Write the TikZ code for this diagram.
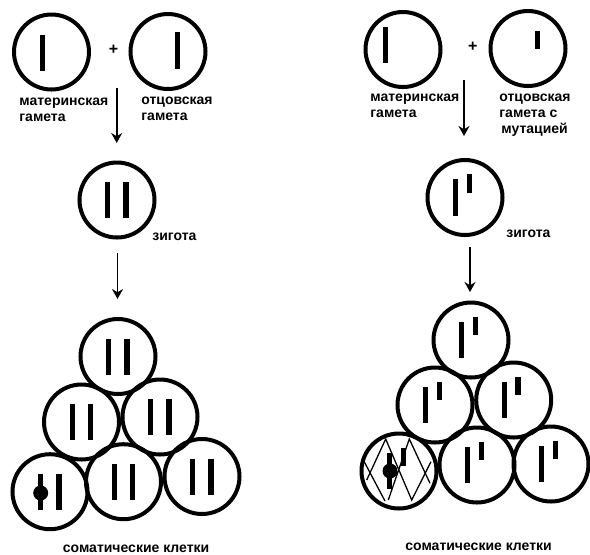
\documentclass[tikz,border=0pt]{standalone}
\usepackage{fontspec}
\setmainfont{Liberation Sans}
\tikzset{
	cell/.style={circle, draw, line width=2pt, inner sep=0pt, minimum size=37.5pt},
	chromo/.style={line width=2.6pt},
	hatch/.style={line width=0.65pt},
	label/.style={font=\bfseries\fontsize{7pt}{8pt}\selectfont, align=left, inner sep=0pt},
	growth/.style={line width=0.9pt, -{Stealth[length=5pt, width=5.5pt]}}
}
\usetikzlibrary{arrows.meta}
% cell holding two long chromosomes
\def\pairCell(#1,#2)#3{
	\node[cell] (#3) at (#1, #2) {};
	\draw[chromo] ({#1-9.3}, {#2-18}) -- ({#1-9.3}, {#2+18});
	\draw[chromo] ({#1+9}, {#2-18}) -- ({#1+9}, {#2+18});
}
% cell holding a long chromosome and a short one
\def\shortCell(#1,#2)#3{
	\node[cell] (#3) at (#1, #2) {};
	\draw[chromo] ({#1-9.3}, {#2-18.5}) -- ({#1-9.3}, {#2+18});
	\draw[chromo] ({#1+4.2}, {#2-23.5}) -- ({#1+4.2}, {#2-5});
}

\begin{document}
\begin{tikzpicture}[x=0.5pt, y=-0.5pt]
		\useasboundingbox (0, 0) rectangle (590, 554);
		%%%%% LEFT SIDE %%%%%
		\node[cell] (motherL) at (51.5, 52) {};
		\draw[chromo] (42.5, 35) -- (42.5, 71);
		\node[cell] (fatherL) at (168, 51.5) {};
		\draw[chromo] (177.5, 32) -- (177.5, 69);
		\node[font=\bfseries\fontsize{8pt}{8pt}\selectfont, inner sep=0pt] (plusL) at (113.5, 49.5) {+};
		
		\node[label, anchor=north west] (motherTextL) at (19, 98) {материнская\\гамета};
		\node[label, anchor=north west] (fatherTextL) at (141, 97) {отцовская\\гамета};
		
		\coordinate (arrowAL) at (116.7, 88);
		\coordinate (arrowBL) at (116.7, 143);
		\draw[growth] (arrowAL) -- (arrowBL);
		
		\pairCell(117, 200){zygoteL}
		\node[label, anchor=north west] (zygoteTextL) at (152, 233) {зигота};
		
		\coordinate (arrowCL) at (117.5, 253);
		\coordinate (arrowDL) at (117.5, 299);
		\draw[growth] (arrowCL) -- (arrowDL);
		
		\pairCell(118, 356.5){somaA}
		\pairCell(81.5, 422){somaB}
		\pairCell(160, 417){somaC}
		\pairCell(123.5, 481.7){somaE}
		\pairCell(202, 476.5){somaF}
		\pairCell(50, 491.7){somaD}
		\node[circle, fill=black, inner sep=0pt, minimum size=7.5pt] (markL) at (40.7, 493) {};
		
		\node[label, anchor=north west] (somaTextL) at (62.5, 544.5) {соматические клетки};
		
		%%%%% RIGHT SIDE %%%%%
		\node[cell] (motherR) at (403, 49.5) {};
		\draw[chromo] (385.7, 27) -- (385.7, 63);
		\node[cell] (fatherR) at (528, 48.5) {};
		\draw[chromo] (537.7, 30.7) -- (537.7, 48.7);
		\node[font=\bfseries\fontsize{8pt}{8pt}\selectfont, inner sep=0pt] (plusR) at (472.7, 46.5) {+};
		
		\node[label, anchor=north west] (motherTextR) at (370, 94) {материнская\\гамета};
		\node[label, anchor=north west] (fatherTextR) at (499, 94) {отцовская\\гамета с\\\hspace*{1pt}мутацией};
		
		\coordinate (arrowAR) at (464, 80);
		\coordinate (arrowBR) at (464, 136);
		\draw[growth] (arrowAR) -- (arrowBR);
		
		\shortCell(465, 197.5){zygoteR}
		\node[label, anchor=north west] (zygoteTextR) at (506, 230) {зигота};
		
		\coordinate (arrowCR) at (470, 247);
		\coordinate (arrowDR) at (470, 292);
		\draw[growth] (arrowCR) -- (arrowDR);
		
		\shortCell(471, 340){cellA}
		\shortCell(435, 405){cellB}
		\shortCell(513.7, 400){cellC}
		\shortCell(477, 465){cellE}
		\shortCell(551, 464){cellF}
		\shortCell(399, 471){cellD}
		\node[circle, fill=black, inner sep=0pt, minimum size=7.5pt] (markR) at (390, 471) {};
		
		% crossed lines over the marked cell
		\draw[hatch] (366.7, 480) -- (385.7, 439) -- (411.7, 500) -- (431, 461.7);
		\draw[hatch] (363.3, 460) -- (385, 501);
		\draw[hatch] (388.3, 500) -- (409.3, 439) -- (430, 483.3);
		
		\node[label, anchor=north west] (somaTextR) at (405, 543) {соматические клетки};
		%%%%% END %%%%%
\end{tikzpicture}
\end{document}
